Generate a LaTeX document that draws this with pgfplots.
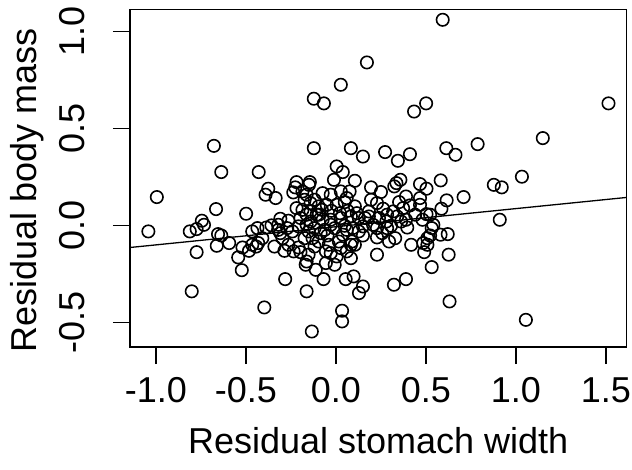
\documentclass[border=0pt]{standalone}
\usepackage{pgfplots}
\pgfplotsset{compat=1.18}
\usepackage{pgfplotstable}
\usepackage{fontspec}
\setmainfont{Liberation Sans}
\pgfplotstableread{
x y
0.593 1.062
0.172 0.842
0.027 0.727
-0.123 0.655
-0.067 0.631
0.501 0.631
0.434 0.589
1.514 0.631
1.149 0.452
0.787 0.421
-0.678 0.412
-0.123 0.400
0.083 0.400
0.150 0.357
0.273 0.380
0.344 0.335
0.411 0.369
0.613 0.400
0.664 0.366
0.004 0.306
0.038 0.277
-0.637 0.277
-0.429 0.277
1.033 0.253
-0.011 0.237
0.105 0.232
0.358 0.237
0.336 0.220
0.582 0.234
-0.219 0.225
-0.145 0.225
0.877 0.211
0.921 0.198
0.467 0.215
0.503 0.191
0.195 0.198
0.250 0.174
0.324 0.203
-0.376 0.191
-0.391 0.160
-0.335 0.143
-0.995 0.148
-0.226 0.198
-0.237 0.172
-0.186 0.177
-0.150 0.211
-0.163 0.160
-0.029 0.160
0.027 0.177
0.076 0.177
0.709 0.148
0.615 0.131
0.467 0.143
0.389 0.151
0.351 0.122
0.195 0.134
-0.174 0.134
-0.141 0.117
-0.096 0.100
-0.051 0.108
0.049 0.122
-0.666 0.086
0.586 0.088
0.523 0.057
0.411 0.105
0.262 0.088
0.183 0.074
0.116 0.065
0.065 0.077
0.022 0.065
-0.025 0.077
-0.078 0.082
-0.186 0.082
-0.163 0.057
-0.107 0.057
-0.499 0.062
-0.745 0.026
-0.309 0.036
-0.264 0.026
-0.358 0.002
0.910 0.031
0.481 0.031
0.503 0.060
0.389 0.031
0.340 0.048
0.284 0.057
0.239 0.040
0.183 0.048
0.127 0.040
0.083 0.048
0.027 0.040
-0.029 0.031
-0.074 0.031
-0.141 0.022
-0.208 -0.003
-1.042 -0.029
-0.774 -0.017
-0.436 -0.012
-0.387 -0.009
-0.320 -0.021
0.396 -0.009
0.306 0.000
0.228 -0.012
0.150 -0.003
0.094 -0.012
0.049 0.000
-0.007 -0.012
-0.063 -0.021
-0.119 -0.012
-0.152 -0.029
0.532 -0.012
0.581 -0.046
0.621 -0.043
0.523 -0.050
-0.655 -0.043
-0.637 -0.050
-0.593 -0.089
-0.662 -0.103
-0.519 -0.112
-0.465 -0.098
-0.432 -0.089
-0.443 -0.107
-0.483 -0.129
-0.543 -0.163
-0.523 -0.229
-0.774 -0.136
-0.342 -0.107
-0.286 -0.129
-0.264 -0.098
-0.208 -0.112
-0.197 -0.136
-0.152 -0.149
-0.163 -0.184
-0.168 -0.201
-0.112 -0.227
-0.056 -0.192
0.004 -0.158
-0.029 -0.141
0.027 -0.115
0.083 -0.098
0.089 -0.081
0.150 -0.050
0.228 -0.060
0.257 -0.038
0.295 -0.081
0.329 -0.064
0.418 -0.098
0.508 -0.098
0.490 -0.136
0.626 -0.149
0.228 -0.149
0.532 -0.213
-0.282 -0.275
-0.069 -0.275
0.054 -0.275
0.098 -0.261
0.150 -0.313
0.128 -0.347
0.322 -0.304
0.389 -0.275
-0.801 -0.338
-0.163 -0.338
0.631 -0.390
-0.398 -0.421
0.034 -0.438
0.034 -0.493
1.055 -0.485
-0.134 -0.545
-0.085 -0.038
-0.047 -0.050
-0.096 -0.081
-0.040 -0.098
-0.119 -0.107
-0.056 -0.132
0.016 -0.081
0.038 -0.046
-0.130 -0.064
-0.174 -0.064
-0.242 -0.029
-0.297 -0.064
-0.235 -0.132
-0.141 0.074
-0.096 0.057
0.004 0.108
0.060 0.143
0.105 0.100
0.161 0.040
0.206 0.005
0.280 0.022
0.362 0.022
0.440 0.057
0.284 -0.012
0.127 -0.029
0.060 -0.021
-0.029 0.005
-0.163 0.005
-0.197 0.040
-0.219 0.091
-0.119 0.134
-0.074 0.168
0.373 0.091
0.318 0.074
0.228 0.117
0.467 0.108
0.541 0.005
0.485 -0.089
0.508 -0.064
0.105 -0.098
0.060 -0.132
-0.007 -0.201
0.083 -0.167
-0.812 -0.029
-0.733 0.005
-0.465 -0.029
-0.409 -0.064
-0.309 -0.038
-0.320 0.005
-0.271 -0.012
}\pts
\begin{document}
\begin{tikzpicture}
\useasboundingbox (-130pt,-122pt) rectangle (502pt,347pt);
\begin{axis}[
  at={(0pt,0pt)}, anchor=south west,
  scale only axis, width=496.5pt, height=337.5pt,
  xmin=-1.144, xmax=1.614, ymin=-0.625, ymax=1.115,
  axis line style={line width=1.2pt},
  xtick={-1,-0.5,0,0.5,1,1.5}, xticklabels={-1.0,-0.5,0.0,0.5,1.0,1.5},
  ytick={-0.5,0,0.5,1}, yticklabels={-0.5,0.0,0.5,1.0},
  xtick pos=bottom, ytick pos=left,
  tick align=outside, major tick length=17pt,
  every tick/.style={black, line width=1.2pt},
  xticklabel style={font=\fontsize{36}{42}\selectfont, anchor=base, yshift=-38pt},
  yticklabel style={font=\fontsize{36}{42}\selectfont, xshift=-28pt, rotate=90, anchor=base},
  every axis x label/.style={at={(axis description cs:0.5,0)}, anchor=base, yshift=-106pt, font=\fontsize{36}{42}\selectfont},
  every axis y label/.style={at={(axis description cs:0,0.5)}, xshift=-93pt, yshift=-12pt, rotate=90, anchor=base, font=\fontsize{36}{42}\selectfont},
  xlabel={Residual stomach width},
  ylabel={Residual body mass},
]
\addplot[only marks, mark=o, mark size=6.2pt, mark options={line width=1.6pt, black}] table[x=x,y=y] {\pts};
\addplot[black, line width=1.3pt] coordinates {(-1.144,-0.112) (1.614,0.146)};
\end{axis}
\end{tikzpicture}
\end{document}
